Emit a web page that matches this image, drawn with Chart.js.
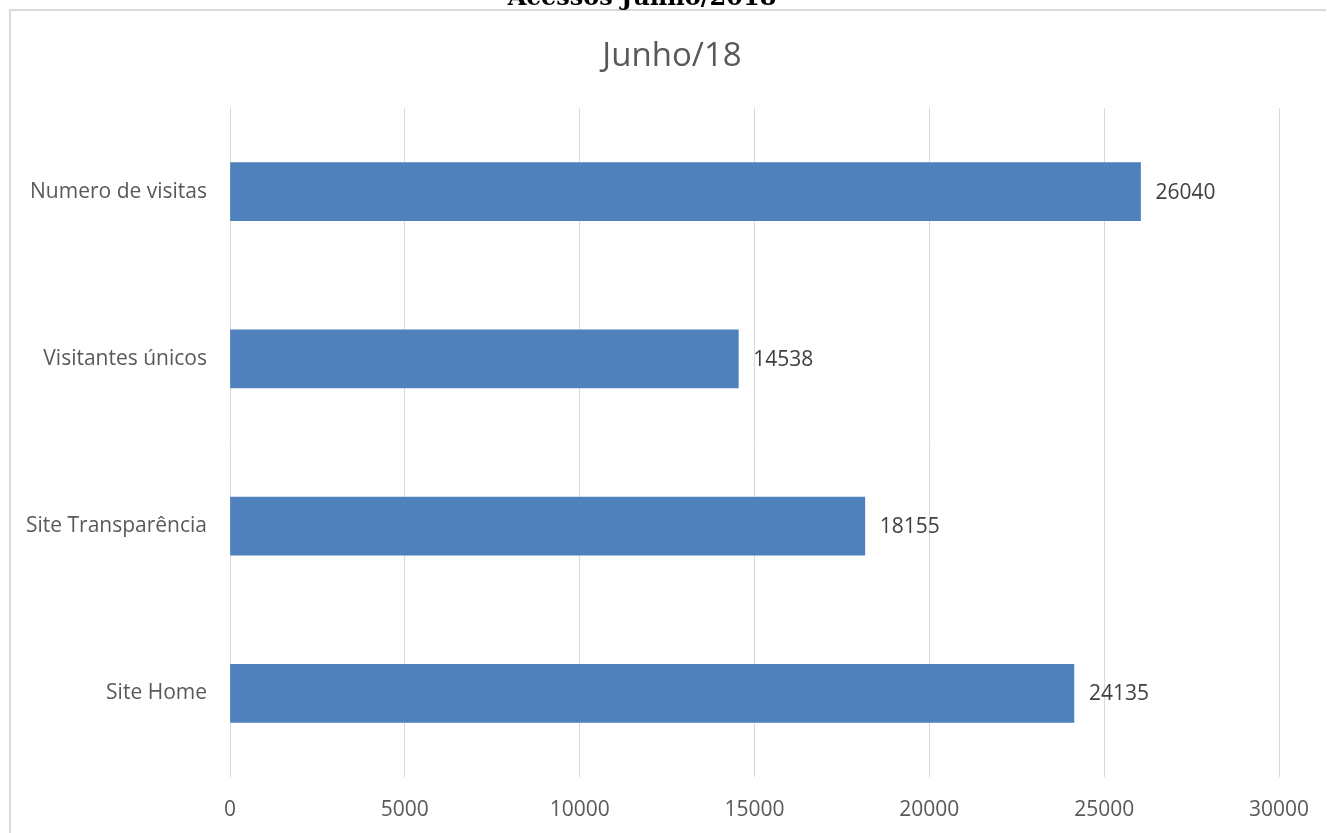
<!DOCTYPE html>
<html>
<head>
<meta charset="utf-8">
<title>Acessos Junho/2018</title>
<script src="https://cdn.jsdelivr.net/npm/chart.js@4/dist/chart.umd.min.js"></script>
<style>
  html, body { margin: 0; padding: 0; background: #fff; }
  #wrap { position: relative; width: 1327px; height: 833px; overflow: hidden; }
</style>
</head>
<body>
<div id="wrap"><canvas id="myChart" width="1327" height="833"></canvas></div>
<script>
// Dados do gráfico
const categorias = ['Numero de visitas', 'Visitantes únicos', 'Site Transparência', 'Site Home'];
const valores = [26040, 14538, 18155, 24135];
const eixoMin = 0;
const eixoMax = 30000;
const eixoPasso = 5000;

const corTexto = '#595959';
const corBarra = '#4f81bd';
const corGrade = '#d9d9d9';

// moldura, título externo (cortado no topo) e título do gráfico
const molduraPlugin = {
    id: 'moldura',
    beforeDraw(chart) {
        const c = chart.ctx;
        c.save();
        c.strokeStyle = corGrade;
        c.lineWidth = 2;
        c.beginPath();
        c.moveTo(10, 840);
        c.lineTo(10, 10);
        c.lineTo(1326, 10);
        c.stroke();
        c.textAlign = 'center';
        c.textBaseline = 'alphabetic';
        c.fillStyle = '#000';
        c.font = 'bold 24px "DejaVu Serif"';
        c.fillText('Acessos Junho/2018', 642, 5);
        c.fillStyle = corTexto;
        c.font = '33px "Open Sans"';
        c.fillText('Junho/18', 672, 66);
        c.restore();
    }
};

// rótulos de valor no fim de cada barra
const rotulosPlugin = {
    id: 'rotulos',
    afterDatasetsDraw(chart) {
        const c = chart.ctx;
        const meta = chart.getDatasetMeta(0);
        c.save();
        c.font = '21px "Open Sans"';
        c.fillStyle = '#404040';
        c.textAlign = 'left';
        c.textBaseline = 'middle';
        meta.data.forEach((bar, i) => {
            c.fillText(String(valores[i]), bar.x + 15, bar.y + 1);
        });
        c.restore();
    }
};

const ctx = document.getElementById('myChart').getContext('2d');
const myChart = new Chart(ctx, {
    type: 'bar',
    data: {
        labels: categorias,
        datasets: [{
            data: valores,
            backgroundColor: corBarra,
            borderWidth: 0,
            barThickness: 58
        }]
    },
    options: {
        indexAxis: 'y',
        responsive: false,
        animation: false,
        layout: { padding: { left: 12, right: 48, top: 108, bottom: 0 } },
        scales: {
            x: {
                min: eixoMin,
                max: eixoMax,
                grid: { color: corGrade, lineWidth: 1, drawTicks: false },
                border: { display: false },
                ticks: {
                    stepSize: eixoPasso,
                    padding: 20,
                    color: corTexto,
                    font: { family: 'Open Sans', size: 21 },
                    callback: (v) => String(v)
                },
                afterFit(scale) {
                    scale.height = 56;
                    scale.paddingLeft = 0;
                    scale.paddingRight = 0;
                }
            },
            y: {
                grid: { display: false, drawTicks: false },
                border: { display: false },
                ticks: {
                    padding: 23,
                    color: corTexto,
                    font: { family: 'Open Sans', size: 21 }
                },
                afterFit(scale) { scale.width = 218; }
            }
        },
        plugins: {
            legend: { display: false },
            tooltip: { enabled: false },
            title: { display: false }
        }
    },
    plugins: [molduraPlugin, rotulosPlugin]
});
</script>
</body>
</html>
